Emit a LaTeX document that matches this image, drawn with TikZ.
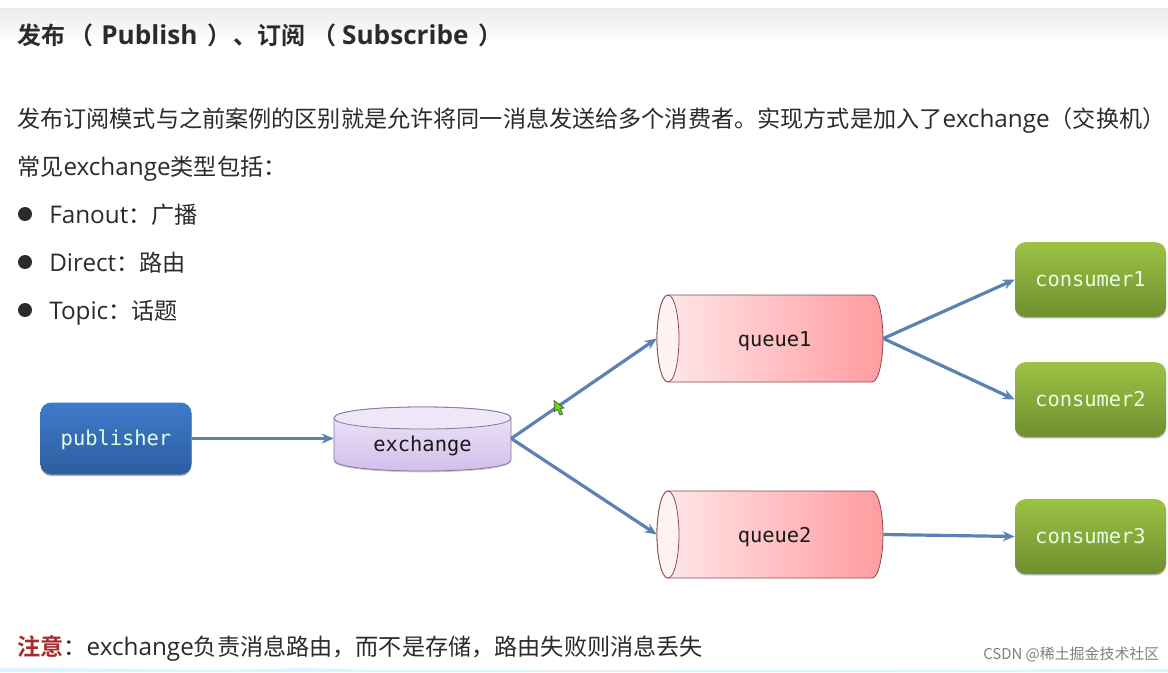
\documentclass[tikz,border=0pt]{standalone}
\usepackage{fontspec}
\setmainfont{Noto Sans CJK SC}
\newfontfamily\boldcjk{Noto Sans CJK SC Bold}
\newfontfamily\lat[Scale=1.05]{Open Sans}
\newfontfamily\latbold{Open Sans Bold}
\newfontfamily\diagmono{DejaVu Sans Mono}
\usetikzlibrary{arrows.meta,shadows,calc}
\definecolor{inkc}{HTML}{2B2B2B}
\definecolor{arrowc}{HTML}{5B82B4}
\definecolor{redc}{HTML}{A52A2A}
\definecolor{bluetop}{HTML}{3F7BCB}
\definecolor{bluebot}{HTML}{2C5D9F}
\definecolor{greentop}{HTML}{9CC244}
\definecolor{greenbot}{HTML}{6F8F30}
\definecolor{purptop}{HTML}{EFE6F8}
\definecolor{purpbot}{HTML}{D3BFEA}
\definecolor{purpline}{HTML}{85789A}
\definecolor{redline}{HTML}{8A4A55}
\definecolor{redright}{HTML}{FF9C9F}
\definecolor{redleft}{HTML}{FFE9EB}
\newcommand{\titlelat}[1]{{\latbold\fontsize{19.6pt}{20pt}\selectfont #1}}
\tikzset{
  x=0.75pt,y=-0.75pt,
  body/.style={anchor=base west,inner sep=0pt,text=inkc,font=\fontsize{17.35pt}{20pt}\selectfont},
  title/.style={anchor=base west,inner sep=0pt,text=inkc,font=\boldcjk\fontsize{18pt}{20pt}\selectfont},
  dot/.style={circle,fill=inkc,inner sep=0pt,minimum size=10.5pt},
  flow/.style={draw=arrowc,line width=2.4pt,-{Stealth[length=9pt,width=7.5pt]}},
  box/.style={rounded corners=8pt,minimum width=113.25pt,inner sep=0pt,text=white!90!green,
    font=\diagmono\fontsize{15.3pt}{18pt}\selectfont,
    drop shadow={shadow xshift=0pt,shadow yshift=-1.2pt,opacity=.3,fill=black}},
  bluebox/.style={box,top color=bluetop,bottom color=bluebot,minimum height=54pt,text height=12.5pt,text depth=2.5pt},
  greenbox/.style={box,top color=greentop,bottom color=greenbot,minimum height=56pt},
  slot/.style={inner sep=0pt,text=black!90,text height=13pt,text depth=1.6pt,font=\diagmono\fontsize{15.3pt}{18pt}\selectfont},
}
\newcommand{\hcyl}[3]{% name, centre y, label
  \path[draw=redline,line width=.6pt,left color=redleft,right color=redright]
    (668,#2-43.5) -- (872,#2-43.5) .. controls (879,#2-43.5) and (883,#2-20) .. (883,#2)
    .. controls (883,#2+20) and (879,#2+43.5) .. (872,#2+43.5) -- (668,#2+43.5)
    .. controls (661,#2+43.5) and (657,#2+20) .. (657,#2)
    .. controls (657,#2-20) and (661,#2-43.5) .. (668,#2-43.5) -- cycle;
  \path[draw=redline,line width=.6pt,fill=redleft!60!white]
    (668,#2-43.5) .. controls (675,#2-43.5) and (679,#2-20) .. (679,#2)
    .. controls (679,#2+20) and (675,#2+43.5) .. (668,#2+43.5)
    .. controls (661,#2+43.5) and (657,#2+20) .. (657,#2)
    .. controls (657,#2-20) and (661,#2-43.5) .. (668,#2-43.5) -- cycle;
  \node[slot,minimum width=169.5pt,minimum height=65pt] (#1) at (770,#2) {\hspace{7pt}#3};
}
\begin{document}
\begin{tikzpicture}
\useasboundingbox (0,0) rectangle (1168,672);
\fill[white] (0,0) rectangle (1168,672);
\shade[top color=black!8,bottom color=white] (0,8) rectangle (1168,42);
\fill[cyan!14] (0,672) -- (0,668) .. controls (60,667) and (150,671) .. (280,669)
  .. controls (300,666) and (340,671) .. (440,670) .. controls (700,671) and (900,669) .. (1010,670)
  .. controls (1060,668) and (1120,670) .. (1168,669) -- (1168,672) -- cycle;

\node[title] (head) at (17,44) {发布\hspace{3pt}（\hspace{6pt}\titlelat{Publish}\hspace{7.5pt}）\hspace{1.5pt}、订阅\hspace{5pt}（\hspace{4.5pt}\titlelat{Subscribe}\hspace{7.5pt}）};
\node[body] (intro) at (17,127) {发布订阅模式与之前案例的区别就是允许将同一消息发送给多个消费者。实现方式是加入了{\lat exchange}（交换机）};
\node[body] (types) at (17,175) {常见{\lat exchange}类型包括：};
\node[dot] (d1) at (25,214) {};
\node[dot] (d2) at (25,262) {};
\node[dot] (d3) at (25,310) {};
\node[body] (fan) at (49,223) {{\lat Fanout}：广播};
\node[body] (dir) at (49,271) {{\lat Direct}：路由};
\node[body] (top) at (49,319) {{\lat Topic}：话题};
\node[body] (note) at (17,655) {\textcolor{redc}{\boldcjk 注意}：{\lat exchange}负责消息路由，而不是存储，路由失败则消息丢失};

\node[bluebox] (pub) at (116,438.5) {publisher};
\node[greenbox] (c1) at (1090.5,279.5) {consumer1};
\node[greenbox] (c2) at (1090.5,399.5) {consumer2};
\node[greenbox] (c3) at (1090.5,536.5) {consumer3};

% exchange cylinder
\path[draw=purpline,line width=.6pt,top color=purptop,bottom color=purpbot,
  drop shadow={shadow xshift=0pt,shadow yshift=-1pt,opacity=.2,fill=black}]
  (334,418) .. controls (334,411) and (375,407) .. (422.5,407)
  .. controls (470,407) and (511,411) .. (511,418) -- (511,460)
  .. controls (511,467) and (470,471) .. (422.5,471)
  .. controls (375,471) and (334,467) .. (334,460) -- cycle;
\path[draw=purpline,line width=.6pt,fill=purptop]
  (334,418) .. controls (334,411) and (375,407) .. (422.5,407)
  .. controls (470,407) and (511,411) .. (511,418)
  .. controls (511,425) and (470,429) .. (422.5,429)
  .. controls (375,429) and (334,425) .. (334,418) -- cycle;
\node[slot,minimum width=132.75pt,minimum height=30pt] (ex) at (422.5,444) {exchange};

\hcyl{q1}{338.5}{queue1}
\hcyl{q2}{534.5}{queue2}

\draw[flow] (pub.east) -- (ex.west |- pub.east);
\draw[flow] (ex.east |- pub.east) -- (q1.west);
\draw[flow] (ex.east |- pub.east) -- (q2.west);
\draw[flow] (q1.east) -- (c1.west);
\draw[flow] (q1.east) -- (c2.west);
\draw[flow] (q2.east) -- (c3.west);

% mouse cursor
\fill[draw=black!70,line width=.5pt,fill=green!55!yellow!85!black]
  (554,400.5) -- (554.5,411.5) -- (557.5,409.5) -- (560,415) -- (562.5,414) -- (560.5,408.5) -- (564,408) -- cycle;

% watermark
\node[anchor=west,inner sep=0pt,text=black!50,font=\fontsize{11.2pt}{14pt}\selectfont] (wm) at (983,654) {CSDN @稀土掘金技术社区};
\end{tikzpicture}
\end{document}
